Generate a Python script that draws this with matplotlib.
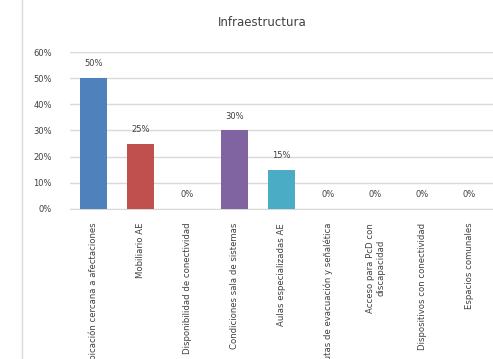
import matplotlib
matplotlib.use("Agg")
import matplotlib.pyplot as plt
from matplotlib.lines import Line2D

categories = [
    "Ubicación cercana a afectaciones",
    "Mobiliario AE",
    "Disponibilidad de conectividad",
    "Condiciones sala de sistemas",
    "Aulas especializadas AE",
    "Rutas de evacuación y señalética",
    "Acceso para PcD con\ndiscapacidad",
    "Dispositivos con conectividad",
    "Espacios comunales",
]
values = [50, 25, 0, 30, 15, 0, 0, 0, 0]
colors = ["#4F81BD", "#C0504D", "#9BBB59", "#8064A2", "#4BACC6",
          "#F79646", "#2C4D75", "#772C2A", "#5F7530"]
yticks = [0, 10, 20, 30, 40, 50, 60]

fig = plt.figure(figsize=(4.93, 3.59), dpi=100)
ax = fig.add_axes([0.142, 0.418, 0.858, 0.437])
x = list(range(len(categories)))
ax.bar(x, values, width=0.57, color=colors, zorder=3)
for xi, v in zip(x, values):
    ax.text(xi, v + 5.5, f"{v}%", ha="center", va="center", fontsize=6, color="#404040")
ax.set_xlim(-0.5, len(categories) - 0.5)
ax.set_ylim(0, 60)
ax.set_yticks(yticks)
ax.set_yticklabels([f"{t}%" for t in yticks], fontsize=6, color="#404040")
ax.set_xticks(x)
ax.set_xticklabels(categories, rotation=90, fontsize=6.1, color="#404040", va="top", ha="center")
ax.tick_params(axis="both", length=0)
ax.tick_params(axis="y", pad=13)
ax.tick_params(axis="x", pad=10)
ax.grid(axis="y", color="#D9D9D9", linewidth=1, zorder=0)
for s in ["top", "right", "left"]:
    ax.spines[s].set_visible(False)
ax.spines["bottom"].set_color("#D9D9D9")
fig.text(0.532, 0.937, "Infraestructura", ha="center", va="center", fontsize=8.5, color="#404040")
fig.add_artist(Line2D([0.045, 0.045], [0, 1], transform=fig.transFigure, color="#D9D9D9", linewidth=1))
fig.savefig("out.png", dpi=100)
